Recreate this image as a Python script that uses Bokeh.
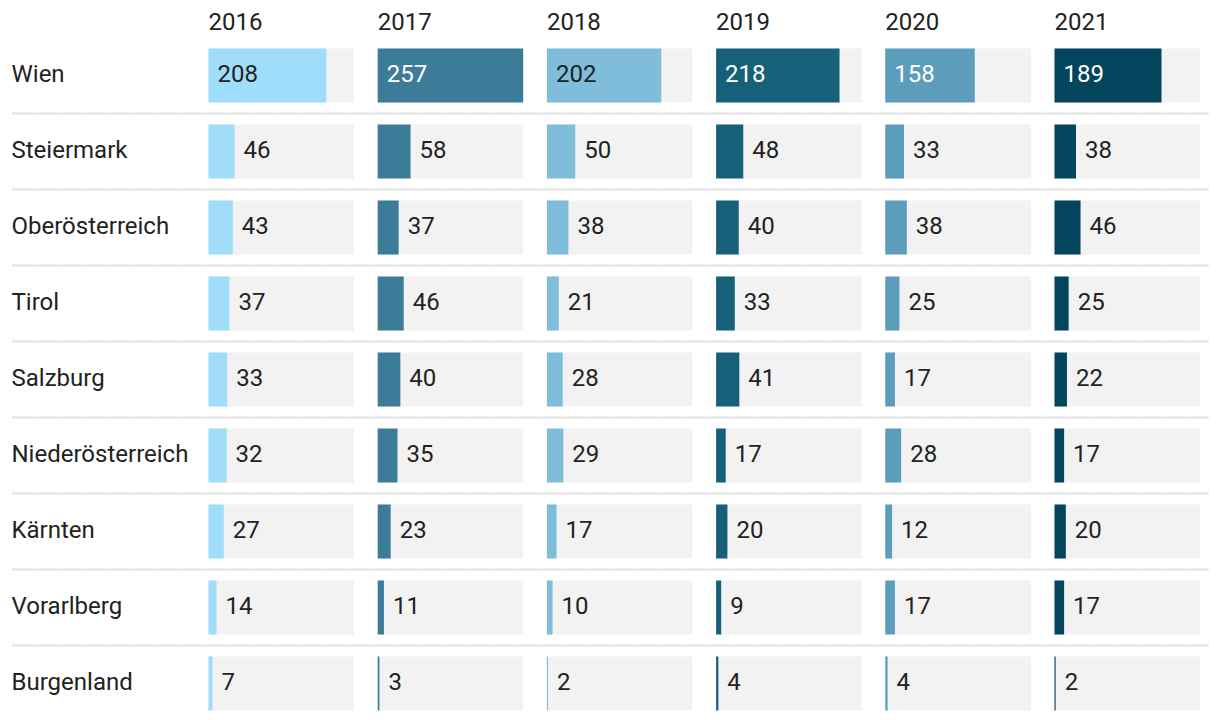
from bokeh.plotting import figure
from bokeh.models import Range1d, ColumnDataSource
from bokeh.embed import file_html
from bokeh.resources import INLINE
from bokeh.core.properties import value

years = ["2016", "2017", "2018", "2019", "2020", "2021"]
regions = ["Wien", "Steiermark", "Oberösterreich", "Tirol", "Salzburg",
           "Niederösterreich", "Kärnten", "Vorarlberg", "Burgenland"]
v2016 = [208, 46, 43, 37, 33, 32, 27, 14, 7]
v2017 = [257, 58, 37, 46, 40, 35, 23, 11, 3]
v2018 = [202, 50, 38, 21, 28, 29, 17, 10, 2]
v2019 = [218, 48, 40, 33, 41, 17, 20, 9, 4]
v2020 = [158, 33, 38, 25, 17, 28, 12, 17, 4]
v2021 = [189, 38, 46, 25, 22, 17, 20, 17, 2]
series = [v2016, v2017, v2018, v2019, v2020, v2021]

colors = ["#a0ddfb", "#3d7c98", "#7fbddb", "#17607a", "#5b9dbb", "#02455d"]
inside_colors = ["#222222", "#ffffff", "#222222", "#ffffff", "#ffffff", "#ffffff"]

FONT = "Roboto"
FS = "24px"
TEXT_COLOR = "#222222"
YOFF = -2

W, H = 1212, 712
MAXV = 257.0
COL_PX = 145.5
STEP_PX = 169.2
LEFT_PX = 208.0          # first column start within figure
ROW_PX = 76.0
TOP_ROW_PX = 75.0        # first row center within figure

k = COL_PX / MAXV                 # px per value unit
step = STEP_PX / k                # column step in value units

x_start = -LEFT_PX / k
x_end = (W - LEFT_PX) / k
y_top = -TOP_ROW_PX / ROW_PX
y_bot = (H - TOP_ROW_PX) / ROW_PX

p = figure(width=W, height=H, output_backend="svg", toolbar_location=None,
           x_range=Range1d(x_start, x_end), y_range=Range1d(y_bot, y_top),
           min_border=0, min_border_left=0, min_border_right=0,
           min_border_top=0, min_border_bottom=0)
p.axis.visible = False
p.grid.visible = False
p.outline_line_color = None
p.background_fill_color = "white"
p.border_fill_color = "white"

bar_h = 54.0 / ROW_PX
rows = list(range(len(regions)))

# dotted separators
for i in range(len(regions) - 1):
    p.line(x=[x_start + 12 / k, x_start + 1208 / k], y=[i + 0.5, i + 0.5],
           line_color="#d2d2d2", line_width=2, line_dash="2 1")

for c, (yr, vals) in enumerate(zip(years, series)):
    off = c * step
    bg = ColumnDataSource(dict(y=rows, left=[off] * len(rows), right=[off + MAXV] * len(rows)))
    p.hbar(y="y", left="left", right="right", height=bar_h, source=bg,
           fill_color="#f2f2f2", line_color=None)
    src = ColumnDataSource(dict(y=rows, left=[off] * len(rows), right=[off + v for v in vals]))
    p.hbar(y="y", left="left", right="right", height=bar_h, source=src,
           fill_color=colors[c], line_color=None)

    inside = [v > 100 for v in vals]
    lx = [off if ins else off + v for v, ins in zip(vals, inside)]
    lc = [inside_colors[c] if ins else TEXT_COLOR for ins in inside]
    lsrc = ColumnDataSource(dict(x=lx, y=rows, t=[str(v) for v in vals], c=lc))
    p.text(x="x", y="y", text="t", source=lsrc, x_offset=9, y_offset=YOFF,
           text_color="c", text_font=value(FONT), text_font_size=FS,
           text_baseline="middle", text_align="left")

    p.text(x=[off], y=[-0.68], text=[yr], y_offset=YOFF, text_color=TEXT_COLOR,
           text_font=value(FONT), text_font_size=FS, text_baseline="middle",
           text_align="left")

p.text(x=[x_start] * len(regions), y=rows, text=regions, x_offset=11, y_offset=YOFF,
       text_color=TEXT_COLOR, text_font=value(FONT), text_font_size=FS,
       text_baseline="middle", text_align="left")

open("out.html", "w").write(file_html(p, INLINE))
